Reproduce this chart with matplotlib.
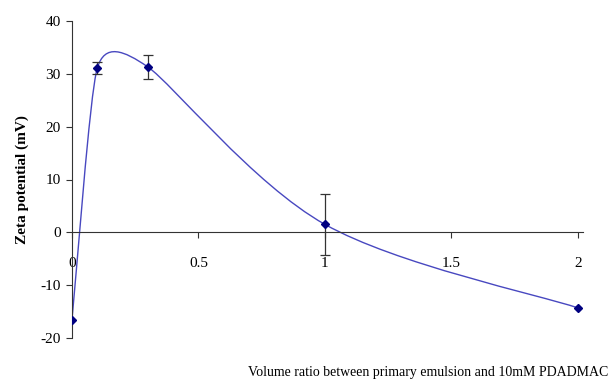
import numpy as np
import matplotlib.pyplot as plt
from matplotlib.path import Path
from matplotlib.patches import PathPatch

# volume ratio vs zeta potential
ratio = [0.0, 0.1, 0.3, 1.0, 2.0]
zeta = [-16.5, 31.1, 31.3, 1.5, -14.3]
zeta_err = [0.0, 1.1, 2.3, 5.7, 0.0]

x_ticks = [0, 0.5, 1, 1.5, 2]
x_tick_labels = ['0', '0.5', '1', '1.5', '2']
y_ticks = [-20, -10, 0, 10, 20, 30, 40]


def smooth_path(ax, xs, ys):
    '''Excel-like smoothed line: cubic bezier through the points, built in screen space'''
    pts = ax.transData.transform(np.column_stack([xs, ys]))
    n = len(pts)
    tang = np.zeros_like(pts)
    for i in range(n):
        if i == 0:
            tang[i] = (pts[1] - pts[0]) / 6
            continue
        if i == n - 1:
            tang[i] = (pts[i] - pts[i - 1]) / 6
            continue
        d_prev = np.hypot(*(pts[i] - pts[i - 1]))
        d_next = np.hypot(*(pts[i + 1] - pts[i]))
        # keep control points from overshooting a short neighbouring segment
        if d_prev / 6 < d_next / 2 and d_next / 6 < d_prev / 2:
            f = 1 / 6
        elif d_prev / 6 >= d_next / 2:
            f = d_next / (2 * d_prev)
        else:
            f = d_prev / (2 * d_next)
        tang[i] = (pts[i + 1] - pts[i - 1]) * f
    verts = [pts[0]]
    codes = [Path.MOVETO]
    for i in range(n - 1):
        verts += [pts[i] + tang[i], pts[i + 1] - tang[i + 1], pts[i + 1]]
        codes += [Path.CURVE4] * 3
    verts = ax.transData.inverted().transform(np.array(verts))
    return Path(verts, codes)


plt.rcParams['font.family'] = ['Liberation Serif', 'DejaVu Serif']
plt.rcParams['axes.unicode_minus'] = False

fig = plt.figure(figsize=(6.15, 3.8), dpi=100)
ax = fig.add_axes([72 / 615, 42 / 380, 511 / 615, 317 / 380])
ax.set_xlim(0, 2.02)
ax.set_ylim(-20, 40)

for side in ['top', 'right']:
    ax.spines[side].set_visible(False)
ax.spines['bottom'].set_position(('data', 0))
ax.spines['bottom'].set_color('#333333')
ax.spines['left'].set_color('#333333')

ax.set_xticks(x_ticks)
ax.set_xticklabels(x_tick_labels)
ax.set_yticks(y_ticks)
ax.tick_params(axis='x', direction='out', length=4, pad=14, labelsize=11, color='#333333')
ax.tick_params(axis='y', direction='out', length=4, pad=4, labelsize=11, color='#333333')

curve = smooth_path(ax, ratio, zeta)
ax.add_patch(PathPatch(curve, facecolor='none', edgecolor='#4848c0', lw=1.0, zorder=2))

has_err = np.array(zeta_err) > 0
ax.errorbar(np.array(ratio)[has_err], np.array(zeta)[has_err], yerr=np.array(zeta_err)[has_err],
            fmt='none', ecolor='#333333', elinewidth=0.9, capsize=3.5, capthick=0.9, zorder=3)
ax.plot(ratio, zeta, linestyle='none', marker='D', markersize=4.5, color='#000080', zorder=4)

ax.set_ylabel('Zeta potential (mV)', fontsize=11, fontweight='bold', labelpad=8)
fig.text(608 / 615, 4 / 380, 'Volume ratio between primary emulsion and 10mM PDADMAC',
         ha='right', va='baseline', fontsize=10)

fig.savefig('out.png', dpi=100)
